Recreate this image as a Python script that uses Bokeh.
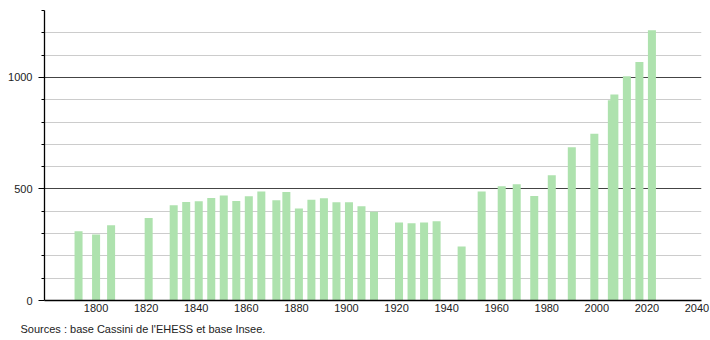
from bokeh.plotting import figure
from bokeh.models import Range1d, FixedTicker, Title, ColumnDataSource
from bokeh.embed import file_html
from bokeh.resources import INLINE

years = [1793, 1800, 1806, 1821, 1831, 1836, 1841, 1846, 1851, 1856, 1861, 1866,
         1872, 1876, 1881, 1886, 1891, 1896, 1901, 1906, 1911, 1921, 1926, 1931,
         1936, 1946, 1954, 1962, 1968, 1975, 1982, 1990, 1999, 2006, 2007, 2012,
         2017, 2022]
population = [310, 296, 337, 370, 427, 441, 445, 459, 471, 446, 467, 489,
              449, 486, 412, 452, 458, 440, 440, 422, 398, 350, 346, 350,
              355, 242, 489, 512, 521, 468, 561, 687, 748, 898, 923, 1005,
              1069, 1212]
x_ticks = [1800, 1820, 1840, 1860, 1880, 1900, 1920, 1940, 1960, 1980, 2000, 2020, 2040]
y_ticks = [0, 500, 1000]
y_minor = [100, 200, 300, 400, 600, 700, 800, 900, 1100, 1200, 1300]
source_text = "Sources : base Cassini de l'EHESS et base Insee."

FONT = "Liberation Sans"

p = figure(width=710, height=340, output_backend="svg", toolbar_location=None,
           x_range=Range1d(1779.4, 2041.8), y_range=Range1d(0, 1300),
           min_border_left=44, min_border_right=9, min_border_top=10,
           min_border_bottom=40, background_fill_color="white",
           border_fill_color="white", outline_line_color=None)

src = ColumnDataSource(dict(x=years, top=population))
p.vbar(x="x", top="top", width=3.2, bottom=0, source=src,
       fill_color="#aee2ae", line_color=None)

# x axis
xa = p.xaxis[0]
xa.ticker = FixedTicker(ticks=x_ticks)
xa.major_tick_out = 0
xa.major_tick_in = 0
xa.minor_tick_out = 0
xa.minor_tick_in = 0
xa.axis_line_color = "black"
xa.axis_line_width = 1.3
xa.major_label_standoff = 3
xa.major_label_text_font = FONT
xa.major_label_text_font_size = "11px"
xa.major_label_text_color = "#222222"

# y axis
ya = p.yaxis[0]
ya.ticker = FixedTicker(ticks=y_ticks, minor_ticks=y_minor)
ya.major_tick_out = 6
ya.major_tick_in = 0
ya.minor_tick_out = 3
ya.minor_tick_in = 0
ya.axis_line_color = "black"
ya.axis_line_width = 1.3
ya.major_tick_line_color = "black"
ya.minor_tick_line_color = "black"
ya.major_label_standoff = 6
ya.major_label_text_font = FONT
ya.major_label_text_font_size = "11px"
ya.major_label_text_color = "#222222"

p.xgrid.visible = False
p.ygrid.grid_line_color = "#444444"
p.ygrid.grid_line_width = 1
p.ygrid.minor_grid_line_color = "#cccccc"
p.ygrid.minor_grid_line_width = 1
p.ygrid.level = "underlay"

p.add_layout(Title(text=source_text, align="left", offset=-24, standoff=12,
                   text_font=FONT, text_font_size="11px", text_font_style="normal",
                   text_color="#222222"), "below")

open("out.html", "w").write(file_html(p, INLINE))
